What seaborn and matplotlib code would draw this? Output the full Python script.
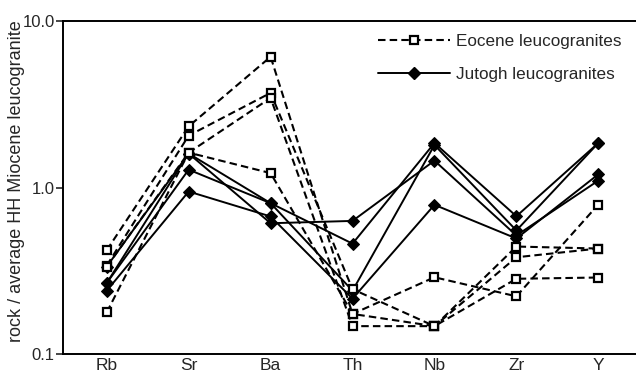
import matplotlib
matplotlib.use("Agg")
import matplotlib.pyplot as plt
from matplotlib.lines import Line2D
import seaborn as sns
import pandas as pd

sns.set_style("white")
plt.rcParams['font.family'] = ['Liberation Sans', 'DejaVu Sans']

elements = ["Rb", "Sr", "Ba", "Th", "Nb", "Zr", "Y"]

# Eocene leucogranites (dashed, open squares)
eoc_a = [0.42, 2.33, 6.10, 0.174, 0.289, 0.222, 0.79]
eoc_b = [0.34, 2.05, 3.70, 0.245, 0.147, 0.442, 0.43]
eoc_c = [0.335, 1.62, 3.45, 0.147, 0.147, 0.381, 0.43]
eoc_d = [0.178, 1.62, 1.22, 0.174, 0.147, 0.283, 0.288]

# Jutogh leucogranites (solid, filled diamonds)
jut_a = [0.335, 1.60, 0.61, 0.63, 1.45, 0.515, 1.10]
jut_b = [0.267, 1.60, 0.805, 0.46, 1.85, 0.672, 1.85]
jut_c = [0.267, 1.28, 0.805, 0.24, 1.80, 0.552, 1.85]
jut_d = [0.24, 0.946, 0.67, 0.215, 0.787, 0.494, 1.20]

eocene = {"E1": eoc_a, "E2": eoc_b, "E3": eoc_c, "E4": eoc_d}
jutogh = {"J1": jut_a, "J2": jut_b, "J3": jut_c, "J4": jut_d}

rows = []
for grp, d in (("Eocene leucogranites", eocene), ("Jutogh leucogranites", jutogh)):
    for sid, vals in d.items():
        for i, (el, v) in enumerate(zip(elements, vals)):
            rows.append({"group": grp, "series": sid, "pos": i, "element": el, "value": v})
df = pd.DataFrame(rows)

fig = plt.figure(figsize=(6.36, 3.74), dpi=100)
ax = fig.add_axes([63/636, 1-354/374, 1-63/636, (354-21)/374])

DASH = (0, (3.6, 2.0))

for sid, sub in df[df.group == "Jutogh leucogranites"].groupby("series"):
    sns.lineplot(data=sub, x="pos", y="value", ax=ax, color="black", lw=1.4,
                 marker="D", markersize=5.8, mfc="black", mec="black",
                 estimator=None, sort=False, legend=False)
for sid, sub in df[df.group == "Eocene leucogranites"].groupby("series"):
    sns.lineplot(data=sub, x="pos", y="value", ax=ax, color="black", lw=1.5,
                 linestyle=DASH, marker="s", markersize=6, mfc="white",
                 mec="black", mew=1.6, estimator=None, sort=False, legend=False)

ax.set_yscale("log")
ax.set_ylim(0.1, 10)
ax.set_xlim(-0.534, 6.46)
ax.set_yticks([0.1, 1, 10])
ax.set_yticklabels(["0.1", "1.0", "10.0"])
ax.minorticks_off()
ax.set_xticks(range(len(elements)))
ax.set_xticklabels(elements)
ax.tick_params(axis="y", which="major", length=5, width=1.2, direction="out", labelsize=12, pad=1, left=True)
ax.tick_params(axis="x", length=0, labelsize=12.5, pad=3)
ax.set_xlabel("")
ax.set_ylabel("rock / average HH Miocene leucogranite", fontsize=13)
ax.yaxis.set_label_coords(-0.066, 0.52)

for s in ["left", "top", "bottom"]:
    ax.spines[s].set_visible(True)
    ax.spines[s].set_color("black")
    ax.spines[s].set_linewidth(1.4)
ax.spines["right"].set_visible(False)

handles = [
    Line2D([], [], color="black", lw=1.5, linestyle=DASH, marker="s",
           markersize=6, mfc="white", mec="black", mew=1.6),
    Line2D([], [], color="black", lw=1.4, marker="D", markersize=5.8, mfc="black"),
]
ax.legend(handles, ["Eocene leucogranites", "Jutogh leucogranites"],
          loc="upper left", bbox_to_anchor=(378/636, 1-34/374),
          bbox_transform=fig.transFigure, frameon=False, fontsize=12.3,
          handlelength=4.2, handletextpad=0.35, labelspacing=1.05,
          borderpad=0, borderaxespad=0)

fig.savefig("out.png", dpi=100)
